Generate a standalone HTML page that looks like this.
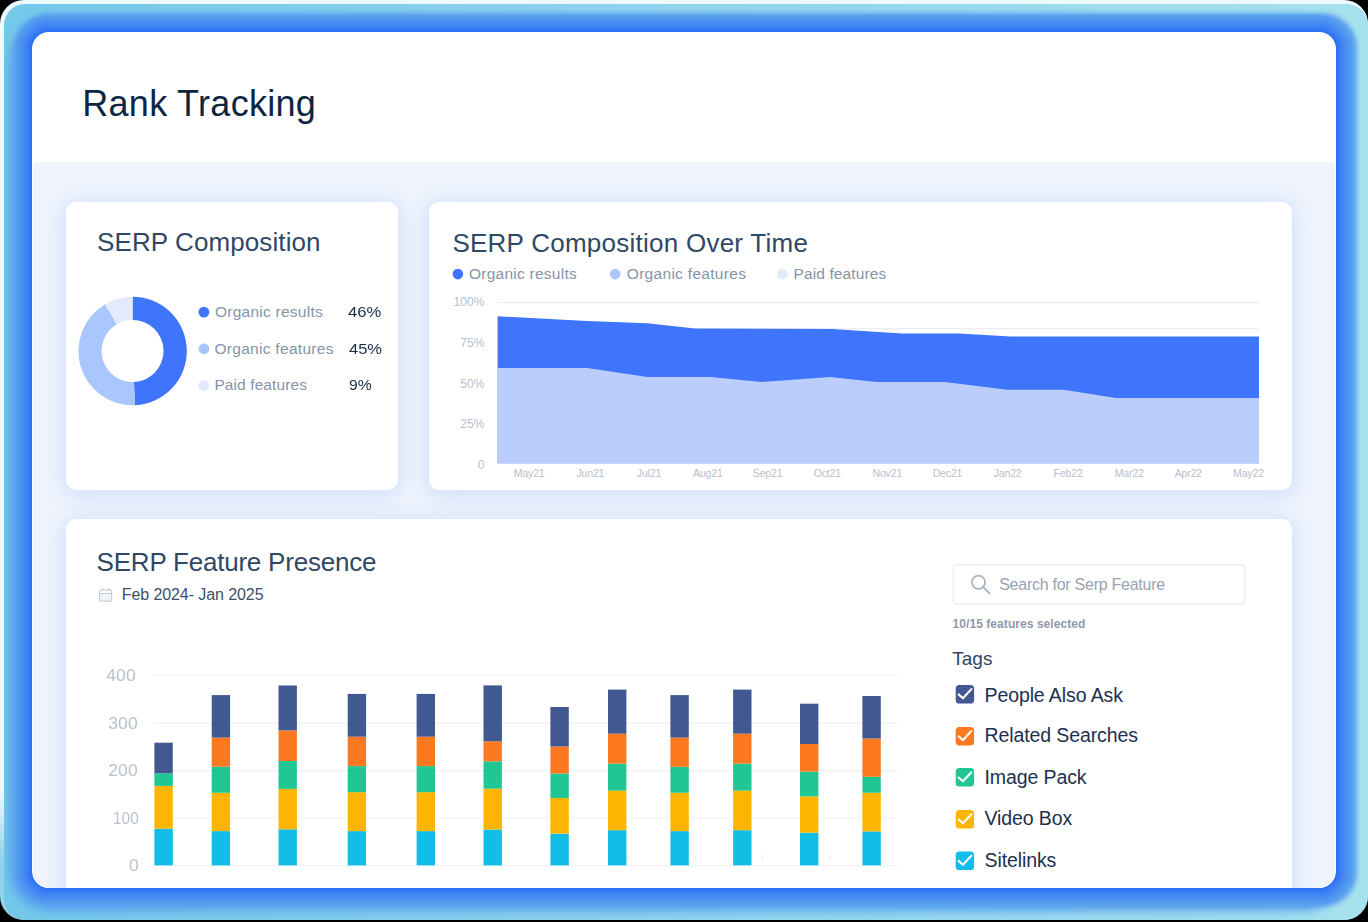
<!DOCTYPE html>
<html><head><meta charset="utf-8">
<style>
*{margin:0;padding:0;box-sizing:border-box}
html,body{width:1368px;height:922px;overflow:hidden;background:#000}
body{position:relative;font-family:"Liberation Sans",sans-serif}
.outer{position:absolute;left:0;top:0;width:1368px;height:919.6px;border-radius:24px;background:linear-gradient(180deg,#eef9fd 0,#eef9fd 790px,#90d4ec 860px);overflow:hidden}
.glow{position:absolute;left:3.5px;top:3.5px;width:1364.5px;height:916.1px;border-radius:21px;background:linear-gradient(90deg,#74c8ea 0%,#8ed2ee 45%,#a6e1ee 100%);overflow:hidden}
.halo{position:absolute;left:10.5px;top:9px;width:1343px;height:894.5px;border-radius:35px;background:#5aa2ef;filter:blur(2px)}
.halo2{position:absolute;left:5.5px;top:18.5px;width:1333px;height:889px;border-radius:40px;background:#5ca6ee;filter:blur(5px)}
.panel{position:absolute;left:28.5px;top:28.5px;width:1304px;height:856px;border-radius:17px;background:#fff;overflow:hidden;
box-shadow:0 0 0 1px rgb(44, 110, 247),0 0 0 2px rgb(48, 116, 246),0 0 0 3px rgb(52, 120, 246),0 0 0 4px rgb(56, 123, 246),0 0 0 5px rgb(60, 126, 245),0 0 0 6px rgb(63, 129, 245),0 0 0 7px rgb(65, 132, 244),0 0 0 8px rgb(67, 135, 244),0 0 0 9px rgb(69, 138, 243),0 0 0 10px rgb(71, 141, 242),0 0 0 11px rgb(73, 144, 242),0 0 0 12px rgb(76, 146, 241),0 0 0 13px rgb(79, 150, 241),0 0 0 14px rgb(81, 152, 240),0 0 0 15px rgb(84, 156, 240),0 0 0 16px rgb(87, 158, 239),0 0 0 17px rgb(89, 161, 239)}
.content{position:absolute;left:1px;right:1px;top:130px;bottom:0;background:#eff4fd}
.card{position:absolute;background:#fff;border-radius:10px;box-shadow:0 3px 20px 3px rgba(58,118,245,0.17)}
.t{position:absolute;white-space:nowrap;line-height:1;font-family:"Liberation Sans",sans-serif}
svg{position:absolute;left:0;top:0}
</style></head><body>
<div class="outer"><div class="glow"><div class="halo2"></div><div class="halo"></div><div class="panel">
  <div class="content"></div>
  <div class="card" style="left:34px;top:170px;width:332.4px;height:288px"></div>
  <div class="card" style="left:397px;top:170px;width:863px;height:288px"></div>
  <div class="card" style="left:34px;top:487px;width:1226px;height:420px"></div>
</div></div></div>
<svg width="1368" height="922" viewBox="0 0 1368 922">
<path fill="#3f74fd" d="M132.60,296.80 A54.2,54.2 0 0 1 134.96,405.15 L133.95,381.97 A31,31 0 0 0 132.60,320.00Z"/>
<path fill="#a9c6fd" d="M134.96,405.15 A54.2,54.2 0 0 1 105.09,304.30 L116.87,324.29 A31,31 0 0 0 133.95,381.97Z"/>
<path fill="#e2eafd" d="M105.09,304.30 A54.2,54.2 0 0 1 132.60,296.80 L132.60,320.00 A31,31 0 0 0 116.87,324.29Z"/>
<circle cx="203.9" cy="312.1" r="5.4" fill="#3f74fd"/>
<circle cx="203.9" cy="348.8" r="5.4" fill="#a9c6fd"/>
<circle cx="203.9" cy="385.6" r="5.4" fill="#e2eafd"/>
<circle cx="457.9" cy="274.1" r="5.3" fill="#3f74fd"/>
<circle cx="615.2" cy="274.1" r="5.3" fill="#a9c6fd"/>
<circle cx="782.5" cy="274.1" r="5.3" fill="#e2eafd"/>
<line x1="497.9" y1="302.7" x2="1258.3" y2="302.7" stroke="#ebedf1" stroke-width="1.2"/>
<line x1="497.9" y1="328.6" x2="1258.3" y2="328.6" stroke="#ebedf1" stroke-width="1.2"/>
<polygon fill="#3f74fd" points="497.6,316.2 587.2,321.1 647.2,323.2 695,328.5 832,329 902.2,333.4 959.2,333.4 1010.4,336.5 1259,336.6 1259,463.2 497.6,463.2"/>
<polygon fill="#bacdfc" points="497.6,368.1 587.2,368.1 647.2,376.9 710.7,377 761.9,381.9 829.9,377 876.6,382 944.6,382 1007.4,389.8 1063.8,389.8 1116,398 1259,398 1259,463.2 497.6,463.2"/>
<line x1="154.4" y1="675.2" x2="897.1" y2="675.2" stroke="#eff1f4" stroke-width="1.2"/>
<line x1="154.4" y1="723.4" x2="897.1" y2="723.4" stroke="#eff1f4" stroke-width="1.2"/>
<line x1="154.4" y1="770.7" x2="897.1" y2="770.7" stroke="#eff1f4" stroke-width="1.2"/>
<line x1="154.4" y1="818.0" x2="897.1" y2="818.0" stroke="#eff1f4" stroke-width="1.2"/>
<line x1="154.4" y1="865.5" x2="897.1" y2="865.5" stroke="#eff1f4" stroke-width="1.2"/>
<rect x="154.4" y="828.7" width="18.4" height="36.70" fill="#12bee6"/>
<rect x="154.4" y="785.9" width="18.4" height="42.80" fill="#fdb502"/>
<rect x="154.4" y="773.3" width="18.4" height="12.60" fill="#20c795"/>
<rect x="154.4" y="742.7" width="18.4" height="30.60" fill="#425890"/>
<rect x="211.7" y="831.1" width="18.4" height="34.30" fill="#12bee6"/>
<rect x="211.7" y="792.8" width="18.4" height="38.30" fill="#fdb502"/>
<rect x="211.7" y="766.7" width="18.4" height="26.10" fill="#20c795"/>
<rect x="211.7" y="737.6" width="18.4" height="29.10" fill="#fc7920"/>
<rect x="211.7" y="695.1" width="18.4" height="42.50" fill="#425890"/>
<rect x="278.5" y="829.3" width="18.4" height="36.10" fill="#12bee6"/>
<rect x="278.5" y="788.9" width="18.4" height="40.40" fill="#fdb502"/>
<rect x="278.5" y="761" width="18.4" height="27.90" fill="#20c795"/>
<rect x="278.5" y="730.4" width="18.4" height="30.60" fill="#fc7920"/>
<rect x="278.5" y="685.5" width="18.4" height="44.90" fill="#425890"/>
<rect x="347.7" y="831.1" width="18.4" height="34.30" fill="#12bee6"/>
<rect x="347.7" y="792.2" width="18.4" height="38.90" fill="#fdb502"/>
<rect x="347.7" y="766.1" width="18.4" height="26.10" fill="#20c795"/>
<rect x="347.7" y="736.7" width="18.4" height="29.40" fill="#fc7920"/>
<rect x="347.7" y="693.9" width="18.4" height="42.80" fill="#425890"/>
<rect x="416.6" y="831.1" width="18.4" height="34.30" fill="#12bee6"/>
<rect x="416.6" y="792.2" width="18.4" height="38.90" fill="#fdb502"/>
<rect x="416.6" y="766.1" width="18.4" height="26.10" fill="#20c795"/>
<rect x="416.6" y="736.7" width="18.4" height="29.40" fill="#fc7920"/>
<rect x="416.6" y="693.9" width="18.4" height="42.80" fill="#425890"/>
<rect x="483.5" y="829.5" width="18.4" height="35.90" fill="#12bee6"/>
<rect x="483.5" y="788.7" width="18.4" height="40.80" fill="#fdb502"/>
<rect x="483.5" y="761.3" width="18.4" height="27.40" fill="#20c795"/>
<rect x="483.5" y="741.4" width="18.4" height="19.90" fill="#fc7920"/>
<rect x="483.5" y="685.4" width="18.4" height="56.00" fill="#425890"/>
<rect x="550.4" y="833.7" width="18.4" height="31.70" fill="#12bee6"/>
<rect x="550.4" y="798" width="18.4" height="35.70" fill="#fdb502"/>
<rect x="550.4" y="773.5" width="18.4" height="24.50" fill="#20c795"/>
<rect x="550.4" y="746.5" width="18.4" height="27.00" fill="#fc7920"/>
<rect x="550.4" y="707" width="18.4" height="39.50" fill="#425890"/>
<rect x="608" y="830.2" width="18.4" height="35.20" fill="#12bee6"/>
<rect x="608" y="790.6" width="18.4" height="39.60" fill="#fdb502"/>
<rect x="608" y="763.6" width="18.4" height="27.00" fill="#20c795"/>
<rect x="608" y="733.7" width="18.4" height="29.90" fill="#fc7920"/>
<rect x="608" y="689.6" width="18.4" height="44.10" fill="#425890"/>
<rect x="670.4" y="831.1" width="18.4" height="34.30" fill="#12bee6"/>
<rect x="670.4" y="792.8" width="18.4" height="38.30" fill="#fdb502"/>
<rect x="670.4" y="766.8" width="18.4" height="26.00" fill="#20c795"/>
<rect x="670.4" y="737.5" width="18.4" height="29.30" fill="#fc7920"/>
<rect x="670.4" y="695.1" width="18.4" height="42.40" fill="#425890"/>
<rect x="733.1" y="830.2" width="18.4" height="35.20" fill="#12bee6"/>
<rect x="733.1" y="790.6" width="18.4" height="39.60" fill="#fdb502"/>
<rect x="733.1" y="763.6" width="18.4" height="27.00" fill="#20c795"/>
<rect x="733.1" y="733.7" width="18.4" height="29.90" fill="#fc7920"/>
<rect x="733.1" y="689.6" width="18.4" height="44.10" fill="#425890"/>
<rect x="800" y="832.7" width="18.4" height="32.70" fill="#12bee6"/>
<rect x="800" y="796.4" width="18.4" height="36.30" fill="#fdb502"/>
<rect x="800" y="771.6" width="18.4" height="24.80" fill="#20c795"/>
<rect x="800" y="744" width="18.4" height="27.60" fill="#fc7920"/>
<rect x="800" y="703.7" width="18.4" height="40.30" fill="#425890"/>
<rect x="862.4" y="831.4" width="18.4" height="34.00" fill="#12bee6"/>
<rect x="862.4" y="792.8" width="18.4" height="38.60" fill="#fdb502"/>
<rect x="862.4" y="776.8" width="18.4" height="16.00" fill="#20c795"/>
<rect x="862.4" y="738.5" width="18.4" height="38.30" fill="#fc7920"/>
<rect x="862.4" y="696" width="18.4" height="42.50" fill="#425890"/>
<rect x="953.2" y="564.8" width="292" height="39.4" rx="4" fill="#fff" stroke="#e1e5eb" stroke-width="1"/>
<circle cx="978.5" cy="582.3" r="6.6" fill="none" stroke="#aab5c3" stroke-width="1.8"/>
<line x1="983.6" y1="587.4" x2="989.5" y2="593.2" stroke="#aab5c3" stroke-width="2" stroke-linecap="round"/>
<g fill="none" stroke="#c3cad5" stroke-width="1.2"><rect x="99.6" y="590" width="12" height="11.2" rx="1"/><line x1="99.6" y1="593.6" x2="111.6" y2="593.6"/><line x1="102.6" y1="588.3" x2="102.6" y2="590.8"/><line x1="108.6" y1="588.3" x2="108.6" y2="590.8"/></g>
<rect x="101.80000000000001" y="595.6" width="1.3" height="1.3" fill="#c3cad5"/>
<rect x="105.0" y="595.6" width="1.3" height="1.3" fill="#c3cad5"/>
<rect x="108.2" y="595.6" width="1.3" height="1.3" fill="#c3cad5"/>
<rect x="101.80000000000001" y="598.1999999999999" width="1.3" height="1.3" fill="#c3cad5"/>
<rect x="105.0" y="598.1999999999999" width="1.3" height="1.3" fill="#c3cad5"/>
<rect x="108.2" y="598.1999999999999" width="1.3" height="1.3" fill="#c3cad5"/>
<rect x="955.7" y="685" width="18.4" height="18.5" rx="3.6" fill="#425890"/>
<polyline points="958.6,694.4 962.9,698.2 971.4,689.1" fill="none" stroke="#fff" stroke-width="2.1" stroke-linecap="round" stroke-linejoin="round"/>
<rect x="955.7" y="726.9" width="18.4" height="18.5" rx="3.6" fill="#fc7920"/>
<polyline points="958.6,736.3 962.9,740.1 971.4,731.0" fill="none" stroke="#fff" stroke-width="2.1" stroke-linecap="round" stroke-linejoin="round"/>
<rect x="955.7" y="768.1" width="18.4" height="18.5" rx="3.6" fill="#20c795"/>
<polyline points="958.6,777.5 962.9,781.3000000000001 971.4,772.2" fill="none" stroke="#fff" stroke-width="2.1" stroke-linecap="round" stroke-linejoin="round"/>
<rect x="955.7" y="810.1" width="18.4" height="18.5" rx="3.6" fill="#fdb502"/>
<polyline points="958.6,819.5 962.9,823.3000000000001 971.4,814.2" fill="none" stroke="#fff" stroke-width="2.1" stroke-linecap="round" stroke-linejoin="round"/>
<rect x="955.7" y="851.5" width="18.4" height="18.5" rx="3.6" fill="#12bee6"/>
<polyline points="958.6,860.9 962.9,864.7 971.4,855.6" fill="none" stroke="#fff" stroke-width="2.1" stroke-linecap="round" stroke-linejoin="round"/>
<rect x="627.5" y="855" width="1" height="5" fill="#e9ebee"/>
<rect x="694.8" y="855" width="1" height="5" fill="#e9ebee"/>
<rect x="762.2" y="855" width="1" height="5" fill="#e9ebee"/>
<rect x="829.1" y="855" width="1" height="5" fill="#e9ebee"/>
</svg>
<div class="t" style="font-size:36px;top:85.52px;color:#0c2542;letter-spacing:0.3px;left:82.20px;">Rank Tracking</div>
<div class="t" style="font-size:26px;top:229.28px;color:#2f4865;letter-spacing:0.1px;left:97.00px;">SERP Composition</div>
<div class="t" style="font-size:26px;top:229.98px;color:#2f4865;letter-spacing:0.25px;left:452.40px;">SERP Composition Over Time</div>
<div class="t" style="font-size:26px;top:549.38px;color:#2f4865;letter-spacing:-0.22px;left:96.60px;">SERP Feature Presence</div>
<div class="t" style="font-size:15.5px;top:304.07px;color:#8694a7;letter-spacing:0.25px;left:215.00px;">Organic results</div>
<div class="t" style="font-size:15.5px;top:340.57px;color:#8694a7;letter-spacing:0.3px;left:214.40px;">Organic features</div>
<div class="t" style="font-size:15.5px;top:377.07px;color:#8694a7;letter-spacing:0.1px;left:214.40px;">Paid features</div>
<div class="t" style="font-size:15px;top:303.90px;color:#1a2d4a;left:347.60px;transform:scaleX(1.11);transform-origin:left;">46%</div>
<div class="t" style="font-size:15px;top:340.80px;color:#1a2d4a;left:349.10px;transform:scaleX(1.1);transform-origin:left;">45%</div>
<div class="t" style="font-size:15px;top:377.30px;color:#1a2d4a;left:349.10px;transform:scaleX(1.05);transform-origin:left;">9%</div>
<div class="t" style="font-size:15.5px;top:265.87px;color:#8694a7;letter-spacing:0.25px;left:469.00px;">Organic results</div>
<div class="t" style="font-size:15.5px;top:265.87px;color:#8694a7;letter-spacing:0.3px;left:626.80px;">Organic features</div>
<div class="t" style="font-size:15.5px;top:265.87px;color:#8694a7;letter-spacing:0.1px;left:793.60px;">Paid features</div>
<div class="t" style="font-size:12px;top:296.34px;color:#b8c0cc;right:883.70px;">100%</div>
<div class="t" style="font-size:12px;top:336.74px;color:#b8c0cc;right:883.70px;">75%</div>
<div class="t" style="font-size:12px;top:377.64px;color:#b8c0cc;right:883.70px;">50%</div>
<div class="t" style="font-size:12px;top:418.24px;color:#b8c0cc;right:883.70px;">25%</div>
<div class="t" style="font-size:12px;top:458.84px;color:#b8c0cc;right:883.70px;">0</div>
<div class="t" style="font-size:10.5px;top:468.41px;color:#b8c0cc;letter-spacing:-0.15px;left:429.20px;width:200px;text-align:center;">May21</div>
<div class="t" style="font-size:10.5px;top:468.41px;color:#b8c0cc;letter-spacing:-0.15px;left:490.40px;width:200px;text-align:center;">Jun21</div>
<div class="t" style="font-size:10.5px;top:468.41px;color:#b8c0cc;letter-spacing:-0.15px;left:549.00px;width:200px;text-align:center;">Jul21</div>
<div class="t" style="font-size:10.5px;top:468.41px;color:#b8c0cc;letter-spacing:-0.15px;left:607.80px;width:200px;text-align:center;">Aug21</div>
<div class="t" style="font-size:10.5px;top:468.41px;color:#b8c0cc;letter-spacing:-0.15px;left:667.60px;width:200px;text-align:center;">Sep21</div>
<div class="t" style="font-size:10.5px;top:468.41px;color:#b8c0cc;letter-spacing:-0.15px;left:727.30px;width:200px;text-align:center;">Oct21</div>
<div class="t" style="font-size:10.5px;top:468.41px;color:#b8c0cc;letter-spacing:-0.15px;left:787.30px;width:200px;text-align:center;">Nov21</div>
<div class="t" style="font-size:10.5px;top:468.41px;color:#b8c0cc;letter-spacing:-0.15px;left:847.50px;width:200px;text-align:center;">Dec21</div>
<div class="t" style="font-size:10.5px;top:468.41px;color:#b8c0cc;letter-spacing:-0.15px;left:907.60px;width:200px;text-align:center;">Jan22</div>
<div class="t" style="font-size:10.5px;top:468.41px;color:#b8c0cc;letter-spacing:-0.15px;left:968.10px;width:200px;text-align:center;">Feb22</div>
<div class="t" style="font-size:10.5px;top:468.41px;color:#b8c0cc;letter-spacing:-0.15px;left:1029.20px;width:200px;text-align:center;">Mar22</div>
<div class="t" style="font-size:10.5px;top:468.41px;color:#b8c0cc;letter-spacing:-0.15px;left:1088.40px;width:200px;text-align:center;">Apr22</div>
<div class="t" style="font-size:10.5px;top:468.41px;color:#b8c0cc;letter-spacing:-0.15px;left:1148.50px;width:200px;text-align:center;">May22</div>
<div class="t" style="font-size:16px;top:667.65px;color:#b9c1cc;right:1232.00px;transform:scaleX(1.1);transform-origin:right;">400</div>
<div class="t" style="font-size:16px;top:715.55px;color:#b9c1cc;right:1230.40px;transform:scaleX(1.1);transform-origin:right;">300</div>
<div class="t" style="font-size:16px;top:763.05px;color:#b9c1cc;right:1230.40px;transform:scaleX(1.1);transform-origin:right;">200</div>
<div class="t" style="font-size:16px;top:810.55px;color:#b9c1cc;right:1229.20px;transform:scaleX(0.96);transform-origin:right;">100</div>
<div class="t" style="font-size:16px;top:858.05px;color:#b9c1cc;right:1228.90px;transform:scaleX(1.1);transform-origin:right;">0</div>
<div class="t" style="font-size:16px;top:587.15px;color:#3c5069;letter-spacing:-0.08px;left:121.70px;">Feb 2024- Jan 2025</div>
<div class="t" style="font-size:16px;top:576.95px;color:#97a2b2;letter-spacing:-0.26px;left:999.20px;">Search for Serp Feature</div>
<div class="t" style="font-size:12px;top:618.24px;color:#8f9aaa;letter-spacing:0.06px;font-weight:700;left:952.60px;">10/15 features selected</div>
<div class="t" style="font-size:19px;top:648.91px;color:#2e4563;left:952.30px;">Tags</div>
<div class="t" style="font-size:19.5px;top:686.09px;color:#1c3050;letter-spacing:-0.1px;left:984.50px;">People Also Ask</div>
<div class="t" style="font-size:19.5px;top:726.19px;color:#1c3050;letter-spacing:-0.1px;left:984.50px;">Related Searches</div>
<div class="t" style="font-size:19.5px;top:767.69px;color:#1c3050;letter-spacing:-0.1px;left:984.50px;">Image Pack</div>
<div class="t" style="font-size:19.5px;top:809.09px;color:#1c3050;letter-spacing:-0.1px;left:984.50px;">Video Box</div>
<div class="t" style="font-size:19.5px;top:850.69px;color:#1c3050;letter-spacing:-0.1px;left:984.50px;">Sitelinks</div>
</body></html>
